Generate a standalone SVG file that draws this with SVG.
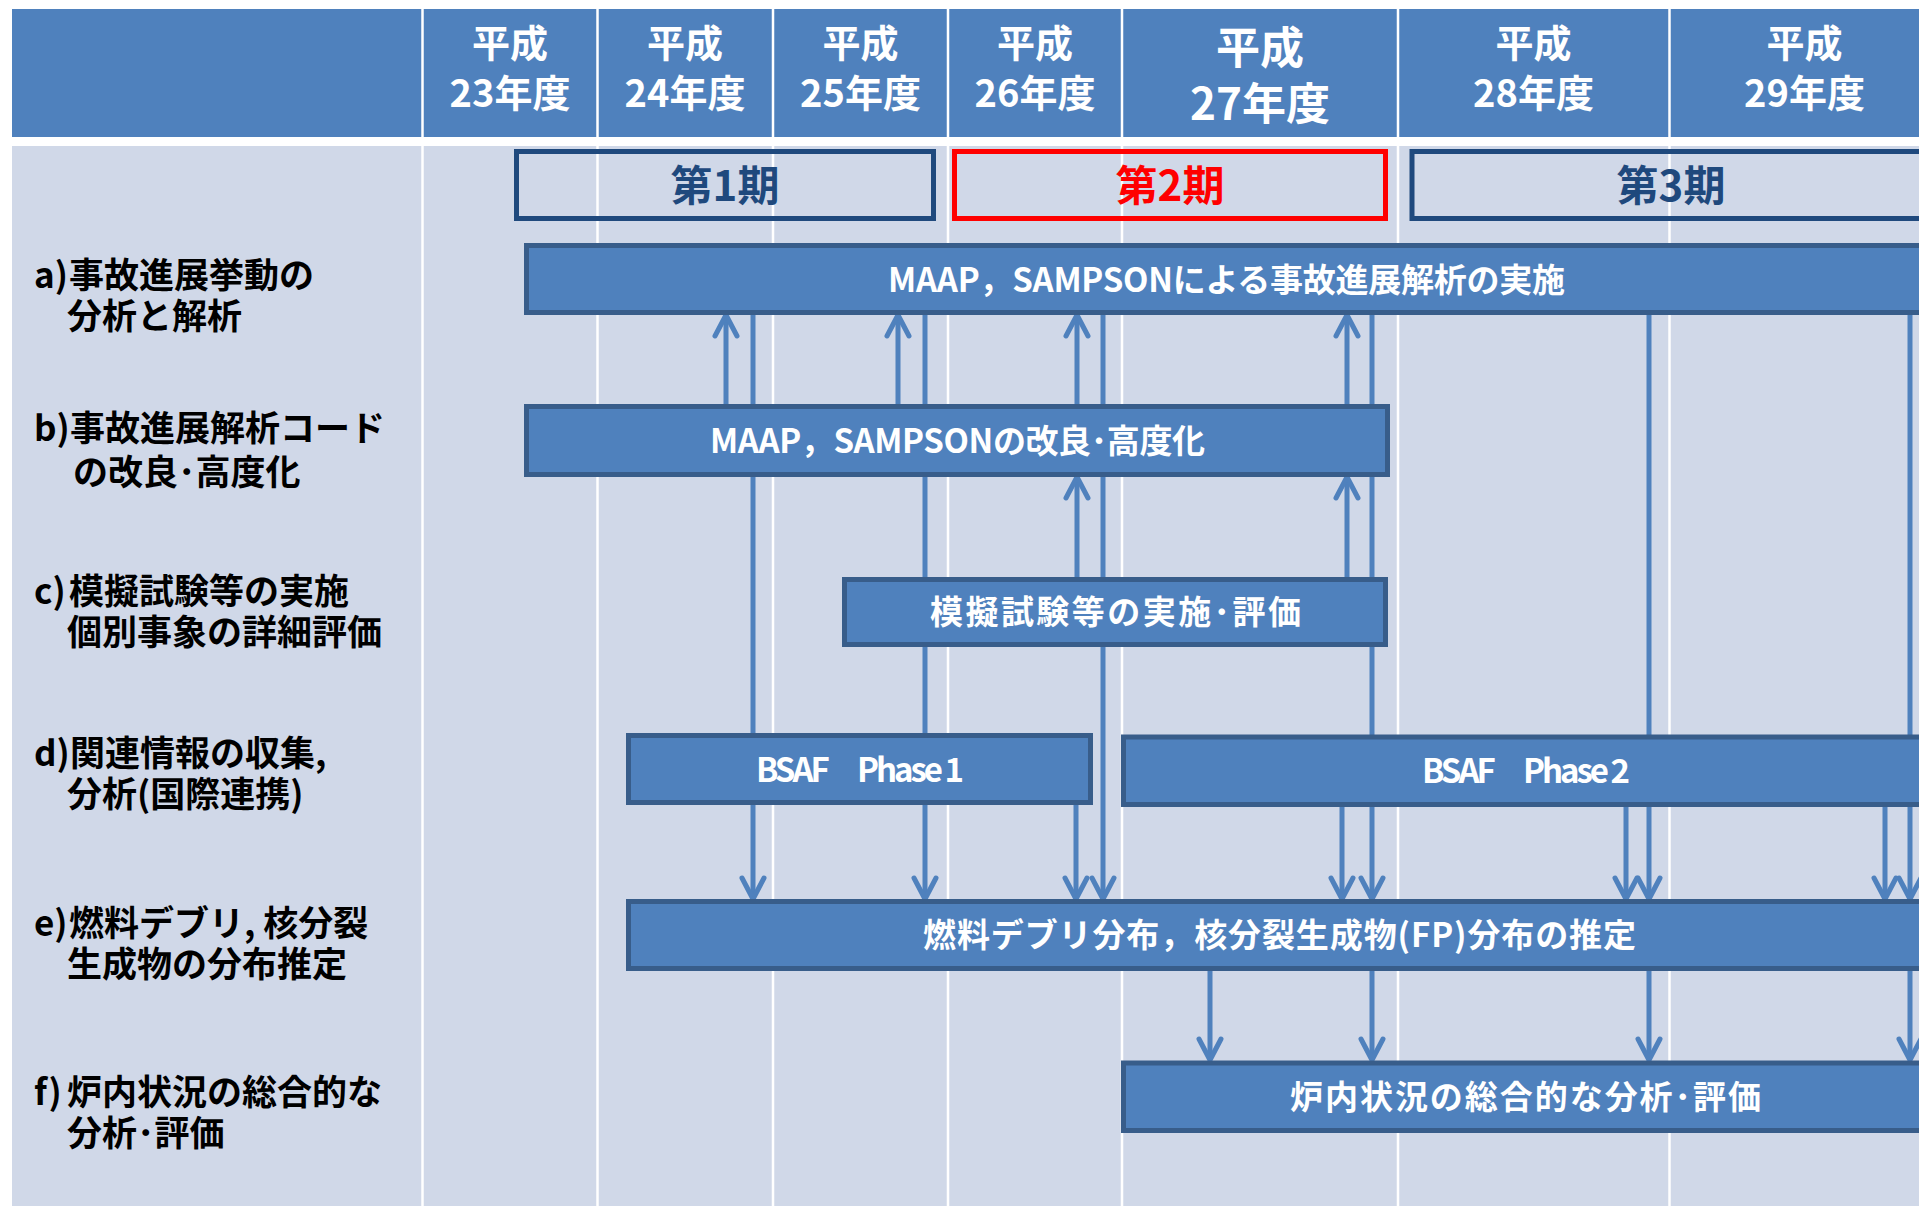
<svg xmlns="http://www.w3.org/2000/svg" width="1919" height="1206" viewBox="0 0 1919 1206">
<defs>
<marker id="arr" markerUnits="userSpaceOnUse" viewBox="-28 -15 34 30" markerWidth="34" markerHeight="30" refX="0" refY="0" orient="auto">
<path d="M-21,-11 L0,0 L-21,11" fill="none" stroke="#4F81BD" stroke-width="5" stroke-linecap="round"/>
</marker>
<style>
.hdr{fill:#4F81BD}
.bodybg{fill:#D0D8E8}
.sep{stroke:#FFFFFF;stroke-width:2.5}
.ht{font-family:"Noto Sans CJK JP","Noto Sans",sans-serif;font-weight:bold;fill:#FFFFFF;text-anchor:middle;dominant-baseline:central;font-size:38px}
.ht27{font-size:44px}
.per{fill:none;stroke:#1F497D;stroke-width:5}
.per2{fill:none;stroke:#FF0000;stroke-width:5}
.pt{font-family:"Noto Sans CJK JP","Noto Sans",sans-serif;font-weight:bold;fill:#1F497D;text-anchor:middle;dominant-baseline:central;font-size:42px}
.pt2{fill:#FF0000}
.lbl{font-family:"Noto Sans CJK JP","Noto Sans",sans-serif;font-weight:bold;fill:#000000;dominant-baseline:central;font-size:35px}
.bar{fill:#4F81BD;stroke:#385D8A;stroke-width:5}
.bt{font-family:"Noto Sans CJK JP","Noto Sans",sans-serif;font-weight:bold;fill:#FFFFFF;text-anchor:middle;dominant-baseline:central;font-size:33px}
.con line{stroke:#4F81BD;stroke-width:5;marker-end:url(#arr)}
</style>
</defs>
<rect x="0" y="0" width="1919" height="1206" fill="#FFFFFF"/>
<g id="background">
<rect class="hdr" x="12" y="9" width="1907" height="128"/>
<rect class="bodybg" x="12" y="146" width="1907" height="1060"/>
<line class="sep" x1="422.5" y1="9" x2="422.5" y2="1206"/>
<line class="sep" x1="597.5" y1="9" x2="597.5" y2="1206"/>
<line class="sep" x1="773" y1="9" x2="773" y2="1206"/>
<line class="sep" x1="948" y1="9" x2="948" y2="1206"/>
<line class="sep" x1="1122" y1="9" x2="1122" y2="1206"/>
<line class="sep" x1="1398" y1="9" x2="1398" y2="1206"/>
<line class="sep" x1="1669.5" y1="9" x2="1669.5" y2="1206"/>
</g>
<g id="header">
<g id="h23"><text class="ht"><tspan x="510" y="40">平成</tspan><tspan x="510" y="89.5">23年度</tspan></text></g>
<g id="h24"><text class="ht"><tspan x="685" y="40">平成</tspan><tspan x="685" y="89.5">24年度</tspan></text></g>
<g id="h25"><text class="ht"><tspan x="860.5" y="40">平成</tspan><tspan x="860.5" y="89.5">25年度</tspan></text></g>
<g id="h26"><text class="ht"><tspan x="1035" y="40">平成</tspan><tspan x="1035" y="89.5">26年度</tspan></text></g>
<g id="h27"><text class="ht ht27"><tspan x="1260" y="44.5">平成</tspan><tspan x="1260" y="101">27年度</tspan></text></g>
<g id="h28"><text class="ht"><tspan x="1533.5" y="40">平成</tspan><tspan x="1533.5" y="89.5">28年度</tspan></text></g>
<g id="h29"><text class="ht"><tspan x="1804.5" y="40">平成</tspan><tspan x="1804.5" y="89.5">29年度</tspan></text></g>
</g>
<g id="periods">
<g id="period1"><rect class="per" x="516.5" y="151.5" width="417" height="67"/><text class="pt" x="725" y="182.5">第1期</text></g>
<g id="period2"><rect class="per2" x="954.5" y="151.5" width="431" height="67"/><text class="pt pt2" x="1170" y="182.5">第2期</text></g>
<g id="period3"><rect class="per" x="1412" y="151.5" width="600" height="67"/><text class="pt" x="1671" y="182.5">第3期</text></g>
</g>
<g id="labels">
<g id="label-a"><text class="lbl"><tspan x="34" y="272">a)</tspan><tspan x="69" y="272">事故進展挙動の</tspan><tspan x="67" y="313">分析と解析</tspan></text></g>
<g id="label-b"><text class="lbl"><tspan x="34" y="424.5">b)</tspan><tspan x="70" y="424.5">事故進展解析コード</tspan><tspan x="73" y="469">の改良･高度化</tspan></text></g>
<g id="label-c"><text class="lbl"><tspan x="34" y="588">c)</tspan><tspan x="69" y="588">模擬試験等の実施</tspan><tspan x="67" y="629">個別事象の詳細評価</tspan></text></g>
<g id="label-d"><text class="lbl"><tspan x="34" y="750">d)</tspan><tspan x="70" y="750">関連情報の収集,</tspan><tspan x="67" y="791">分析(国際連携)</tspan></text></g>
<g id="label-e"><text class="lbl"><tspan x="34" y="920">e)</tspan><tspan x="69" y="920">燃料デブリ, 核分裂</tspan><tspan x="67" y="961">生成物の分布推定</tspan></text></g>
<g id="label-f"><text class="lbl"><tspan x="34" y="1089">f)</tspan><tspan x="67" y="1089">炉内状況の総合的な</tspan><tspan x="67" y="1130">分析･評価</tspan></text></g>
</g>
<g id="connectors" class="con">
<line x1="726" y1="404" x2="726" y2="315"/>
<line x1="898" y1="404" x2="898" y2="315"/>
<line x1="1077" y1="404" x2="1077" y2="315"/>
<line x1="1347" y1="404" x2="1347" y2="315"/>
<line x1="1077" y1="577" x2="1077" y2="477"/>
<line x1="1347" y1="577" x2="1347" y2="477"/>
<line x1="753" y1="315" x2="753" y2="899"/>
<line x1="925" y1="315" x2="925" y2="899"/>
<line x1="1103" y1="315" x2="1103" y2="899"/>
<line x1="1372" y1="315" x2="1372" y2="899"/>
<line x1="1649" y1="315" x2="1649" y2="899"/>
<line x1="1910" y1="315" x2="1910" y2="899"/>
<line x1="1076" y1="805" x2="1076" y2="899"/>
<line x1="1342" y1="807" x2="1342" y2="899"/>
<line x1="1626" y1="807" x2="1626" y2="899"/>
<line x1="1885" y1="807" x2="1885" y2="899"/>
<line x1="1210" y1="971" x2="1210" y2="1060"/>
<line x1="1372" y1="971" x2="1372" y2="1060"/>
<line x1="1649" y1="971" x2="1649" y2="1060"/>
<line x1="1910" y1="971" x2="1910" y2="1060"/>
</g>
<g id="nodes">
<g id="node-a"><rect class="bar" x="526.5" y="245.5" width="1450" height="67"/><text class="bt" x="1226.5" y="277.5" textLength="677">MAAP，SAMPSONによる事故進展解析の実施</text></g>
<g id="node-b"><rect class="bar" x="526.5" y="406.5" width="861" height="68"/><text class="bt" x="957.5" y="438.5" textLength="495">MAAP，SAMPSONの改良･高度化</text></g>
<g id="node-c"><rect class="bar" x="844.5" y="579.5" width="541" height="65"/><text class="bt" x="1115.5" y="609.5" textLength="371">模擬試験等の実施･評価</text></g>
<g id="node-d1"><rect class="bar" x="628.5" y="735.5" width="462" height="67"/><text class="bt" x="860" y="767.5" textLength="208">BSAF　Phase 1</text></g>
<g id="node-d2"><rect class="bar" x="1123.5" y="737" width="850" height="67.5"/><text class="bt" x="1526" y="768.5" textLength="208">BSAF　Phase 2</text></g>
<g id="node-e"><rect class="bar" x="628.5" y="901.5" width="1350" height="67"/><text class="bt" x="1279.5" y="933" textLength="713">燃料デブリ分布，核分裂生成物(FP)分布の推定</text></g>
<g id="node-f"><rect class="bar" x="1123.5" y="1063" width="850" height="67.5"/><text class="bt" x="1525.5" y="1094.5" textLength="471">炉内状況の総合的な分析･評価</text></g>
</g>
</svg>
